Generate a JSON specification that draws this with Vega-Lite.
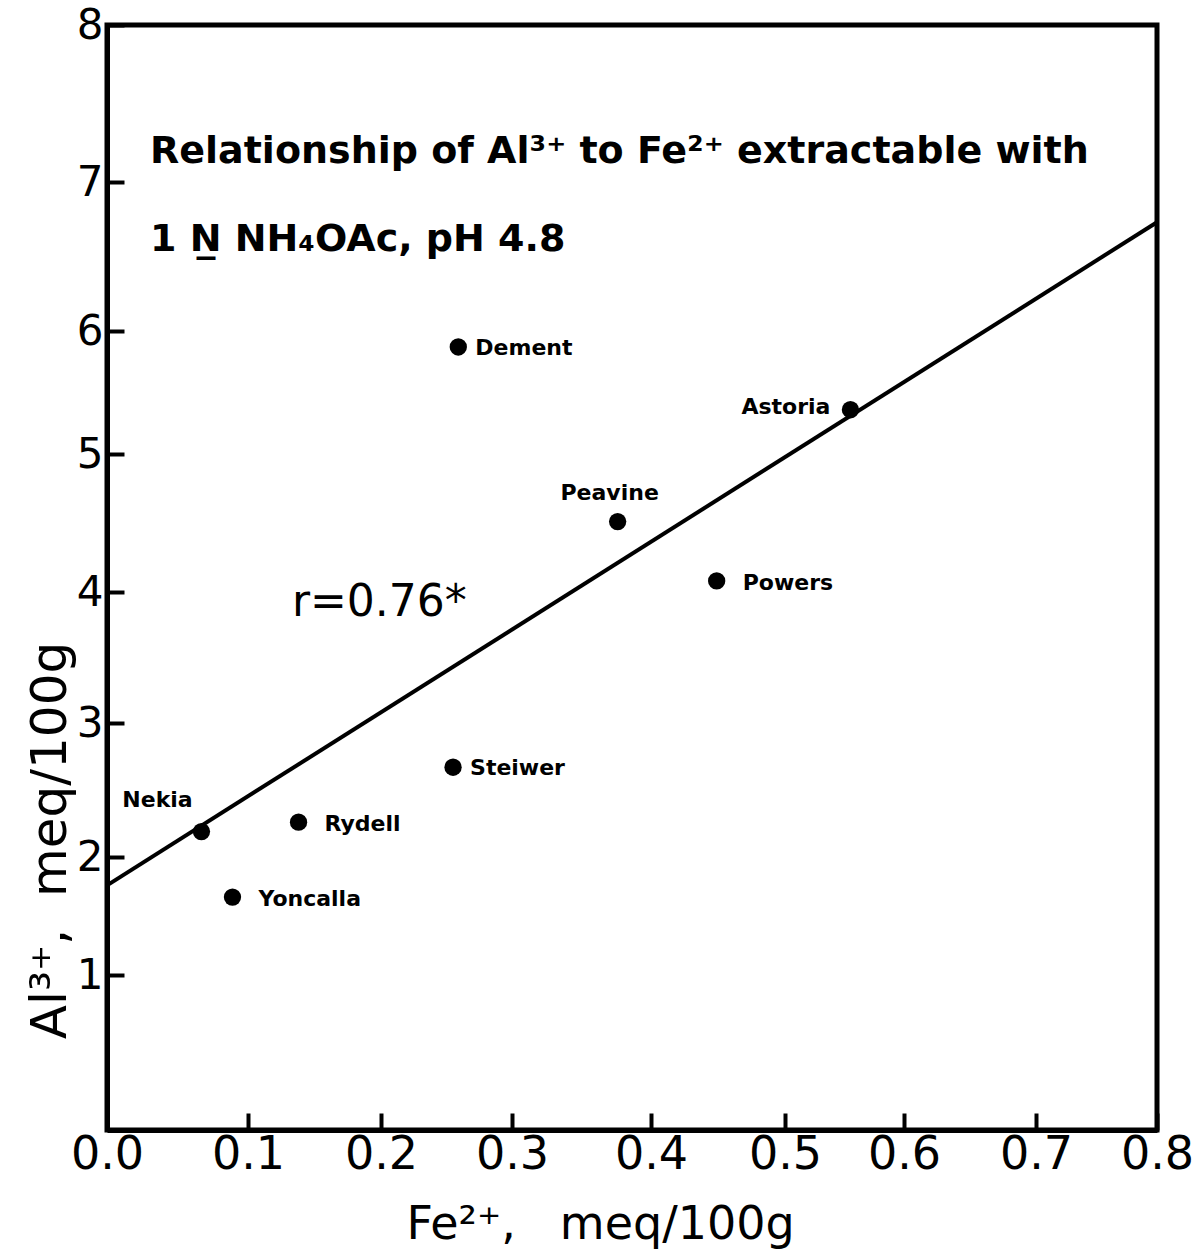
{
  "$schema": "https://vega.github.io/schema/vega-lite/v6.json",
  "width": 1050,
  "height": 1105,
  "autosize": {"type": "none"},
  "padding": {"left": 107, "top": 25, "right": 40, "bottom": 122},
  "background": "white",
  "config": {
    "font": "DejaVu Sans",
    "view": {"stroke": "black", "strokeWidth": 5}
  },
  "datasets": {
    "soils": [
      {"soil": "Dement", "fe": 0.259, "al": 5.87},
      {"soil": "Astoria", "fe": 0.555, "al": 5.36},
      {"soil": "Peavine", "fe": 0.376, "al": 4.51},
      {"soil": "Powers", "fe": 0.449, "al": 4.08},
      {"soil": "Steiwer", "fe": 0.255, "al": 2.67},
      {"soil": "Nekia", "fe": 0.067, "al": 2.19},
      {"soil": "Rydell", "fe": 0.138, "al": 2.26},
      {"soil": "Yoncalla", "fe": 0.089, "al": 1.66}
    ],
    "fit": [
      {"fe": 0, "al": 1.76},
      {"fe": 0.8, "al": 6.73}
    ]
  },
  "layer": [
    {
      "data": {"name": "fit"},
      "mark": {"type": "line", "color": "black", "strokeWidth": 4},
      "encoding": {
        "x": {
          "field": "fe", "type": "quantitative",
          "scale": {"domain": [0, 0.1, 0.2, 0.3, 0.4, 0.5, 0.6, 0.7, 0.8], "range": [0, 141, 274, 405, 544, 678, 797, 929, 1050], "nice": false, "zero": false},
          "axis": {
            "values": [0, 0.1, 0.2, 0.3, 0.4, 0.5, 0.6, 0.7, 0.8],
            "format": ".1f",
            "grid": false,
            "domainColor": "black", "domainWidth": 5,
            "tickColor": "black", "tickWidth": 4, "tickSize": -17,
            "labelFontSize": 46, "labelColor": "black", "labelPadding": 19,
            "labelFlush": false,
            "title": "Fe²⁺,\u00a0\u00a0\u00a0meq/100g",
            "titleFontSize": 46, "titleFontWeight": "normal", "titleColor": "black",
            "titleX": 493, "titleY": 108, "titleBaseline": "alphabetic"
          }
        },
        "y": {
          "field": "al", "type": "quantitative",
          "scale": {"domain": [0, 1, 2, 3, 4, 5, 6, 7, 8], "range": [1105, 950, 832, 698, 567, 429, 306, 157, 0], "nice": false, "zero": false},
          "axis": {
            "values": [1, 2, 3, 4, 5, 6, 7, 8],
            "format": "d",
            "grid": false,
            "domainColor": "black", "domainWidth": 5,
            "tickColor": "black", "tickWidth": 4, "tickSize": -17,
            "labelFontSize": 42, "labelColor": "black", "labelPadding": 21,
            "labelFlush": false,
            "title": "Al³⁺,\u00a0\u00a0meq/100g",
            "titleFontSize": 50, "titleFontWeight": "normal", "titleColor": "black",
            "titleX": -42, "titleY": 815, "titleBaseline": "alphabetic", "titleAngle": -90
          }
        }
      }
    },
    {
      "data": {"name": "soils"},
      "mark": {"type": "point", "filled": true, "color": "black", "size": 300, "opacity": 1},
      "encoding": {
        "x": {"field": "fe", "type": "quantitative"},
        "y": {"field": "al", "type": "quantitative"}
      }
    },
    {
      "data": {"name": "soils"},
      "transform": [{"filter": {"field": "soil", "oneOf": ["Dement", "Steiwer"]}}],
      "mark": {"type": "text", "align": "left", "baseline": "middle", "dx": 17, "dy": 1, "fontSize": 22, "fontWeight": "bold", "color": "black"},
      "encoding": {
        "x": {"field": "fe", "type": "quantitative"},
        "y": {"field": "al", "type": "quantitative"},
        "text": {"field": "soil"}
      }
    },
    {
      "data": {"name": "soils"},
      "transform": [{"filter": {"field": "soil", "oneOf": ["Powers", "Rydell", "Yoncalla"]}}],
      "mark": {"type": "text", "align": "left", "baseline": "middle", "dx": 26, "dy": 2, "fontSize": 22, "fontWeight": "bold", "color": "black"},
      "encoding": {
        "x": {"field": "fe", "type": "quantitative"},
        "y": {"field": "al", "type": "quantitative"},
        "text": {"field": "soil"}
      }
    },
    {
      "data": {"name": "soils"},
      "transform": [{"filter": {"field": "soil", "equal": "Astoria"}}],
      "mark": {"type": "text", "align": "right", "baseline": "middle", "dx": -20, "dy": -3, "fontSize": 22, "fontWeight": "bold", "color": "black"},
      "encoding": {
        "x": {"field": "fe", "type": "quantitative"},
        "y": {"field": "al", "type": "quantitative"},
        "text": {"field": "soil"}
      }
    },
    {
      "data": {"name": "soils"},
      "transform": [{"filter": {"field": "soil", "equal": "Peavine"}}],
      "mark": {"type": "text", "align": "center", "baseline": "middle", "dx": -8, "dy": -29, "fontSize": 22, "fontWeight": "bold", "color": "black"},
      "encoding": {
        "x": {"field": "fe", "type": "quantitative"},
        "y": {"field": "al", "type": "quantitative"},
        "text": {"field": "soil"}
      }
    },
    {
      "data": {"name": "soils"},
      "transform": [{"filter": {"field": "soil", "equal": "Nekia"}}],
      "mark": {"type": "text", "align": "center", "baseline": "middle", "dx": -44, "dy": -32, "fontSize": 22, "fontWeight": "bold", "color": "black"},
      "encoding": {
        "x": {"field": "fe", "type": "quantitative"},
        "y": {"field": "al", "type": "quantitative"},
        "text": {"field": "soil"}
      }
    },
    {
      "data": {"values": [{}]},
      "mark": {"type": "text", "align": "left", "baseline": "alphabetic", "fontSize": 38, "fontWeight": "bold", "color": "black"},
      "encoding": {
        "x": {"datum": 0.0305},
        "y": {"datum": 7.12},
        "text": {"value": "Relationship of Al³⁺ to Fe²⁺ extractable with"}
      }
    },
    {
      "data": {"values": [{}]},
      "mark": {"type": "text", "align": "left", "baseline": "alphabetic", "fontSize": 38, "fontWeight": "bold", "color": "black"},
      "encoding": {
        "x": {"datum": 0.0305},
        "y": {"datum": 6.54},
        "text": {"value": "1 N̲ NH₄OAc, pH 4.8"}
      }
    },
    {
      "data": {"values": [{}]},
      "mark": {"type": "text", "align": "left", "baseline": "alphabetic", "fontSize": 44, "color": "black"},
      "encoding": {
        "x": {"datum": 0.133},
        "y": {"datum": 3.82},
        "text": {"value": "r=0.76*"}
      }
    }
  ]
}
